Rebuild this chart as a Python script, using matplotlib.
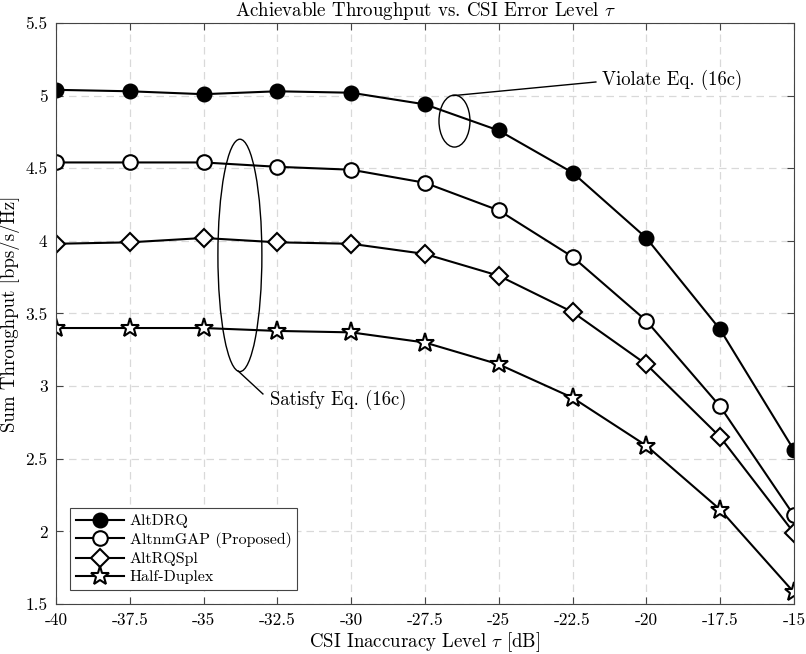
import matplotlib
matplotlib.use("Agg")
import matplotlib.pyplot as plt
from matplotlib.patches import Ellipse

plt.rcParams['font.family'] = 'serif'
plt.rcParams['font.serif'] = ['cmr10', 'DejaVu Serif']
plt.rcParams['mathtext.fontset'] = 'cm'
plt.rcParams['axes.unicode_minus'] = False
plt.rcParams['axes.formatter.use_mathtext'] = True

tau = [-40, -37.5, -35, -32.5, -30, -27.5, -25, -22.5, -20, -17.5, -15]
altdrq = [5.04, 5.03, 5.01, 5.03, 5.02, 4.94, 4.76, 4.47, 4.02, 3.39, 2.56]
altnmgap = [4.54, 4.54, 4.54, 4.51, 4.49, 4.40, 4.21, 3.89, 3.45, 2.86, 2.11]
altrqspl = [3.98, 3.99, 4.02, 3.99, 3.98, 3.91, 3.76, 3.51, 3.15, 2.65, 1.99]
half_duplex = [3.40, 3.40, 3.40, 3.38, 3.37, 3.30, 3.15, 2.92, 2.59, 2.15, 1.58]

xticks = [-40, -37.5, -35, -32.5, -30, -27.5, -25, -22.5, -20, -17.5, -15]
xlabels = ['-40', '-37.5', '-35', '-32.5', '-30', '-27.5', '-25', '-22.5', '-20', '-17.5', '-15']
yticks = [1.5, 2, 2.5, 3, 3.5, 4, 4.5, 5, 5.5]
ylabels = ['1.5', '2', '2.5', '3', '3.5', '4', '4.5', '5', '5.5']

fig = plt.figure(figsize=(8.06, 6.54), dpi=100)
ax = fig.add_axes([0.0695, 0.0765, 0.9155, 0.8883])

lw = 1.5
ax.plot(tau, altdrq, '-o', color='k', lw=lw, ms=10.5, mfc='k', mec='k', label='AltDRQ')
ax.plot(tau, altnmgap, '-o', color='k', lw=lw, ms=10.5, mfc='white', mec='k', mew=1.5,
        label='AltnmGAP (Proposed)')
ax.plot(tau, altrqspl, '-D', color='k', lw=lw, ms=9.5, mfc='white', mec='k', mew=1.5,
        label='AltRQSpl')
ax.plot(tau, half_duplex, '-*', color='k', lw=lw, ms=14, mfc='white', mec='k', mew=1.5,
        label='Half-Duplex')

# annotations
ax.add_patch(Ellipse((-26.5, 4.825), 1.05, 0.358, fill=False, ec='k', lw=1.0))
ax.plot([-26.55, -21.71], [5.0, 5.094], color='k', lw=1.0)
ax.text(-21.5, 5.11, 'Violate Eq. (16c)', fontsize=13.5, va='center', ha='left')

ax.add_patch(Ellipse((-33.77, 3.90), 1.49, 1.60, fill=False, ec='k', lw=1.0))
ax.plot([-33.83, -32.99], [3.104, 2.946], color='k', lw=1.0)
ax.text(-32.75, 2.905, 'Satisfy Eq. (16c)', fontsize=13.5, va='center', ha='left')

ax.set_xlim(-40, -15)
ax.set_ylim(1.5, 5.5)
ax.set_xticks(xticks)
ax.set_xticklabels(xlabels)
ax.set_yticks(yticks)
ax.set_yticklabels(ylabels)
ax.tick_params(direction='in', top=True, right=True, labelsize=12.5, length=5,
               color='#444444', pad=6)
ax.grid(True, ls=(0, (6, 4)), color='#d9d9d9', lw=0.9)
ax.set_axisbelow(True)
for s in ax.spines.values():
    s.set_color('#444444')
    s.set_linewidth(0.8)

ax.set_xlabel(r'CSI Inaccuracy Level $\tau$ [dB]', fontsize=13.6, labelpad=1.5)
ax.set_ylabel('Sum Throughput [bps/s/Hz]', fontsize=13.6)
ax.set_title(r'Achievable Throughput vs. CSI Error Level $\tau$', fontsize=13.6, pad=5)

leg = ax.legend(loc='lower left', bbox_to_anchor=(0.019, 0.024), borderaxespad=0,
                fontsize=11.5, frameon=True, fancybox=False, edgecolor='#444444',
                framealpha=1, handlelength=3.0, borderpad=0.35, labelspacing=0.25,
                handletextpad=0.4)
leg.get_frame().set_linewidth(0.8)

fig.savefig('out.png', dpi=100)
